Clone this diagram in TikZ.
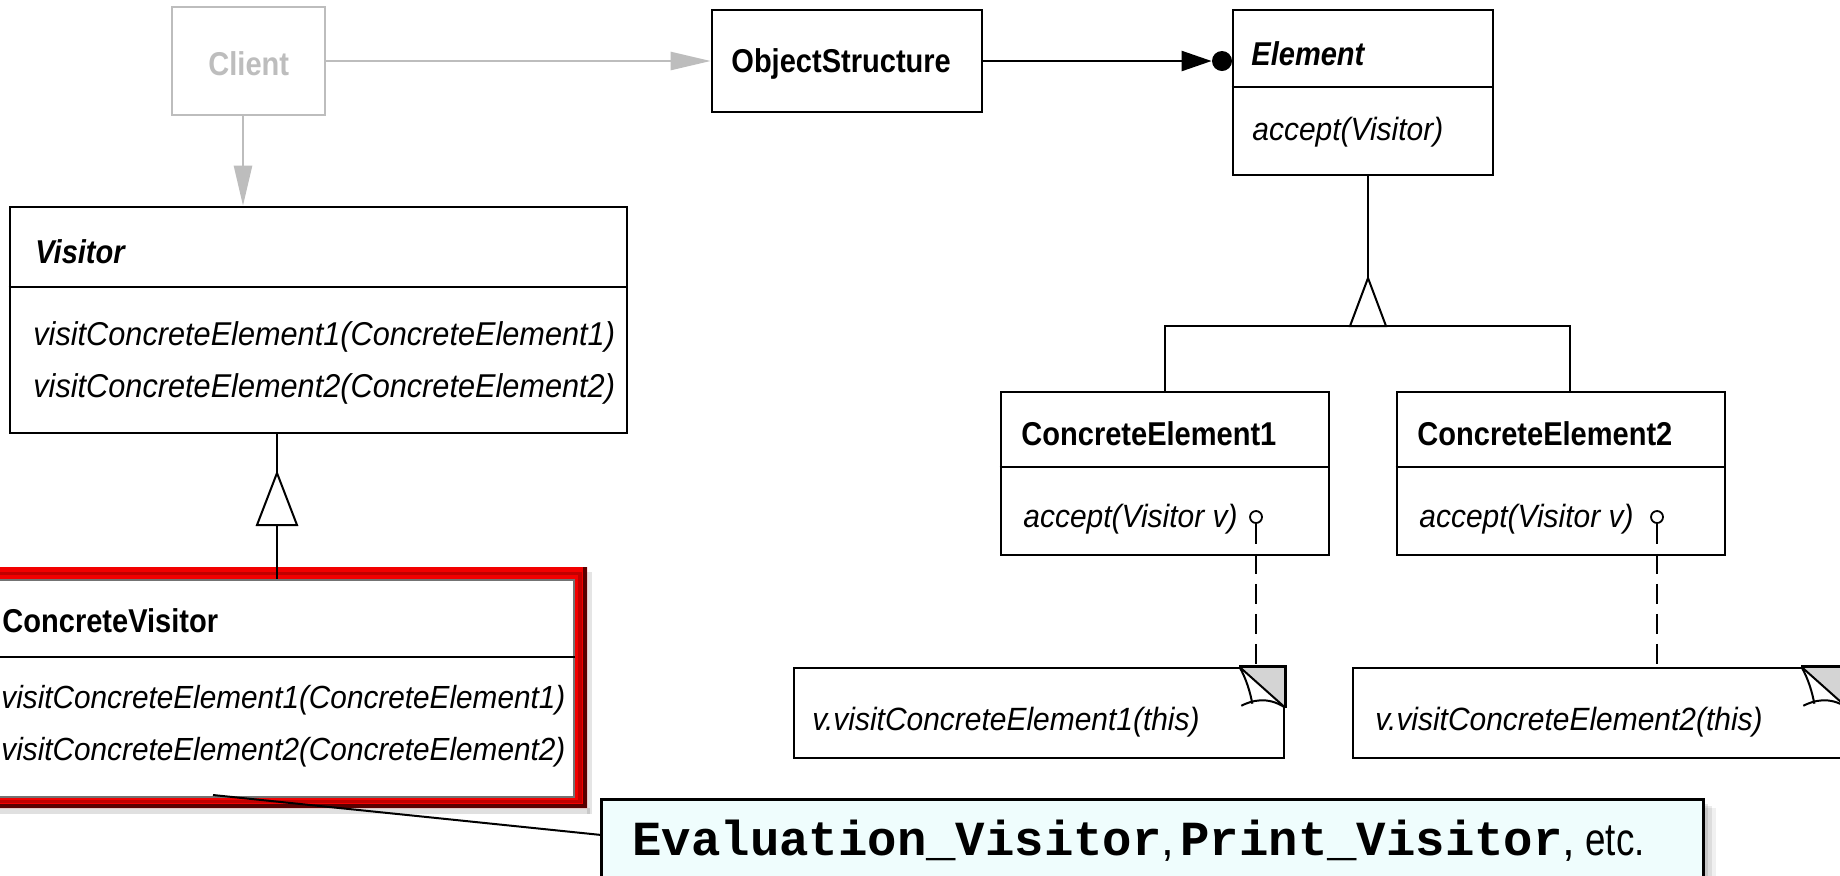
\documentclass[tikz,border=0pt]{standalone}
\usepackage{fontspec}
\setmainfont{Liberation Sans}
\newfontfamily\umltitle[FakeStretch=0.88]{Liberation Sans}
\newfontfamily\umlop[FakeStretch=0.93]{Liberation Sans}
\newfontfamily\codefont{Liberation Mono}
\usetikzlibrary{arrows.meta,fit}

\definecolor{ghost}{HTML}{BDBDBD}
\definecolor{notegray}{HTML}{D4D4D4}
\definecolor{calloutbg}{HTML}{EFFDFD}
\definecolor{framered}{HTML}{F20000}
\definecolor{framemid}{HTML}{C00000}
\definecolor{framedark}{HTML}{5A0000}

\tikzset{
  umlbox/.style={draw, line width=1.3pt, inner sep=0pt, fill=white},
  notebox/.style={draw, line width=1.3pt, inner sep=0pt, fill=white},
  txt/.style={anchor=base west, inner sep=0pt},
  mth/.style={txt, font=\umlop\fontsize{16.5}{19}\selectfont\itshape},
  smallmth/.style={txt, font=\umlop\fontsize{16.1}{19}\selectfont\itshape},
  cvmth/.style={txt, font=\umlop\fontsize{16}{19}\selectfont\itshape},
  ttl/.style={txt, font=\umltitle\fontsize{16.5}{19}\selectfont\bfseries},
  attl/.style={txt, font=\umltitle\fontsize{16.5}{19}\selectfont\bfseries\itshape},
  link/.style={line width=1pt},
  greylink/.style={line width=1.2pt, draw=ghost, -{Triangle[length=20pt,width=9pt]}, ghost},
  socket/.style={circle, draw, line width=0.9pt, fill=white, minimum size=6pt, inner sep=0pt},
  aggdot/.style={circle, fill=black, minimum size=10pt, inner sep=0pt},
}

% folded page corner of a note, 46 x 41 units
\newcommand\pagecurl[1]{%
  \begin{scope}[shift={(#1.north east)}]
    \fill[notegray] (-46,0) -- (0,0) -- (0,41) -- cycle;
    \draw[line width=1pt] (-46,0) -- (0,41);
    \draw[line width=1pt] (-46,0) .. controls (-39,12) and (-35,26) .. (-33,37);
    \draw[line width=1pt] (-44,39) .. controls (-34,34) and (-18,29) .. (0,41);
    \draw[line width=1.3pt] (-46,0) -- (0,0) -- (0,41);
  \end{scope}}

\begin{document}
\begin{tikzpicture}[x=0.5pt,y=-0.5pt]
\clip (0,0) rectangle (1840,875);
\fill[white] (0,0) rectangle (1840,875);

% ---------- Client ----------
\node[umlbox, draw=ghost, fit={(172,7) (325,115)}] (client) {};
\node[ttl, text=ghost] (clientname) at (208,75) {Client};

% ---------- ObjectStructure ----------
\node[umlbox, fit={(712,10) (982,112)}] (objs) {};
\node[ttl] (objsname) at (731,72) {ObjectStructure};

% ---------- Element ----------
\node[umlbox, fit={(1233,10) (1493,175)}] (elem) {};
\draw[line width=1.3pt] (elem.west |- 0,87) -- (elem.east |- 0,87);
\node[attl] (elemname) at (1251,65) {Element};
\node[smallmth] (elemop) at (1252,140) {accept(Visitor)};

% ---------- Visitor ----------
\node[umlbox, fit={(10,207) (627,433)}] (visitor) {};
\draw[line width=1.3pt] (visitor.west |- 0,287) -- (visitor.east |- 0,287);
\node[attl] (visname) at (35,263) {Visitor};
\node[mth] (visop1) at (33,345) {visitConcreteElement1(ConcreteElement1)};
\node[mth] (visop2) at (33,397) {visitConcreteElement2(ConcreteElement2)};

% ---------- ConcreteVisitor (highlighted frame) ----------
\fill[black, opacity=0.12] (-60,808) rectangle (590,814);
\fill[black, opacity=0.10] (587,572) rectangle (592,814);
\fill[framered, even odd rule] (-60,567) rectangle (587,808) (-60,580) rectangle (574,797);
\fill[framemid] (-60,572) rectangle (582,575);
\fill[framemid] (578,572) rectangle (582,803);
\fill[framemid] (-60,800) rectangle (582,803);
\fill[framedark] (583,567) rectangle (587,808);
\fill[framedark] (-60,804) rectangle (587,808);
\node[umlbox, line width=0.8pt, draw=black!55, fit={(-60,580) (574,797)}] (cv) {};
\draw[line width=1.3pt] (cv.west |- 0,657) -- (cv.east |- 0,657);
\node[ttl] (cvname) at (2,632) {ConcreteVisitor};
\node[cvmth] (cvop1) at (1,708) {visitConcreteElement1(ConcreteElement1)};
\node[cvmth] (cvop2) at (1,760) {visitConcreteElement2(ConcreteElement2)};

% ---------- ConcreteElement1 / 2 ----------
\node[umlbox, fit={(1001,392) (1329,555)}] (ce1) {};
\draw[line width=1.3pt] (ce1.west |- 0,467) -- (ce1.east |- 0,467);
\node[ttl] (ce1name) at (1021,445) {ConcreteElement1};
\node[smallmth] (ce1op) at (1023,527) {accept(Visitor v)};

\node[umlbox, fit={(1397,392) (1725,555)}] (ce2) {};
\draw[line width=1.3pt] (ce2.west |- 0,467) -- (ce2.east |- 0,467);
\node[ttl] (ce2name) at (1417,445) {ConcreteElement2};
\node[smallmth] (ce2op) at (1419,527) {accept(Visitor v)};

% ---------- notes ----------
\node[notebox, fit={(794,668) (1284,758)}] (note1) {};
\pagecurl{note1}
\node[smallmth] (note1txt) at (812,730) {v.visitConcreteElement1(this)};

\node[notebox, fit={(1353,668) (1846,758)}] (note2) {};
\pagecurl{note2}
\node[smallmth] (note2txt) at (1375,730) {v.visitConcreteElement2(this)};

% implementation sockets and their dashed links
\node[socket] (s1) at (1256,517) {};
\node[socket] (s2) at (1657,517) {};
\draw[link, dash pattern=on 10pt off 5pt] (s1.south) -- (s1.south |- note1.north);
\draw[link, dash pattern=on 10pt off 5pt] (s2.south) -- (s2.south |- note2.north);

% ---------- Client associations ----------
\draw[greylink] (client.east) -- (objs.west);
\draw[greylink] (client.south -| 243,0) -- (visitor.north -| 243,0);

% ---------- ObjectStructure -> Element (many) ----------
\node[aggdot] (many) at (1222,61) {};
\draw[line width=1.2pt, -{Triangle[length=15pt,width=10pt]}] (objs.east) -- (many.west);

% ---------- inheritance: Visitor <- ConcreteVisitor ----------
\coordinate (gv) at (277,473);
\draw[link] (visitor.south -| gv) -- (gv);
\draw[link, fill=white] (gv) -- ++(-20,52) -- ++(40,0) -- cycle;
\draw[link] ([yshift=-26pt]gv) -- (cv.north -| gv);

% ---------- inheritance: Element <- ConcreteElement1/2 ----------
\coordinate (ge) at (1368,278);
\coordinate (gebar) at (1368,326);
\draw[link] (elem.south -| ge) -- (ge);
\draw[link, fill=white] (ge) -- ++(-18,48) -- ++(36,0) -- cycle;
\draw[link] (ce1.north -| 1165,0) -- (gebar -| 1165,0) -- (gebar -| 1570,0) -- (ce2.north -| 1570,0);

% ---------- callout (runs off the lower edge) ----------
\fill[black, opacity=0.06] (612,808) rectangle (1716,900);
\fill[black, opacity=0.08] (610,806) rectangle (1712,900);
\fill[black, opacity=0.10] (608,804) rectangle (1708,900);
\node[fill=calloutbg, inner sep=0pt, fit={(602,800) (1703,870)}] (callout) {};
\fill[calloutbg] (602,860) rectangle (1703,900);
\draw[line width=1.3pt] ([yshift=-20pt]callout.south west) |- (callout.north east) -- ([yshift=-20pt]callout.south east);
\node[txt, font=\fontsize{24.5}{28}\selectfont\codefont\bfseries] (callouttxt) at (632,855)
  {Evaluation\_Visitor{\fontsize{23}{28}\selectfont\normalfont,}\hspace{3pt}Print\_Visitor{\fontsize{23}{28}\selectfont\normalfont,\hspace{5pt}\scalebox{0.8}[1]{etc.}}};
\coordinate (cvtail) at (213,795);
\draw[link] (cvtail) -- (callout.west);

\end{tikzpicture}
\end{document}
